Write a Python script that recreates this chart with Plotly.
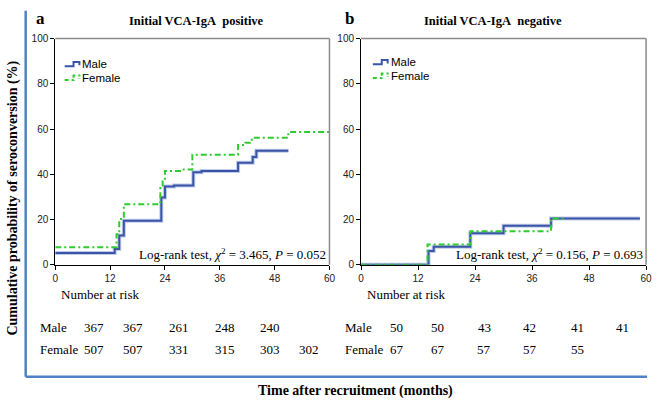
import plotly.graph_objects as go

# ---------------- data ----------------
# Panel a: Initial VCA-IgA positive
a_male_t = [0, 13, 14, 15, 23.2, 24, 26, 30.2, 32, 40, 43.2, 44, 51]
a_male_y = [5.2, 7.0, 13.0, 19.5, 29.7, 34.6, 35.1, 40.9, 41.5, 45.1, 47.6, 50.4, 50.4]
a_female_t = [0, 13.4, 14, 15, 23, 23.5, 24, 27.8, 30, 40, 41.6, 43, 51, 60]
a_female_y = [7.8, 13.5, 20.3, 26.8, 33.9, 37.5, 41.5, 42.1, 48.7, 53.0, 54.0, 56.2, 58.7, 58.7]

# Panel b: Initial VCA-IgA negative
b_male_t = [0, 14.2, 15.3, 23, 30, 40, 58.7]
b_male_y = [0, 6.1, 8.0, 14.0, 17.3, 20.5, 20.5]
b_female_t = [0, 14, 23, 40, 43]
b_female_y = [0, 9.0, 14.8, 20.5, 20.5]

x_ticks = [0, 12, 24, 36, 48, 60]
y_ticks = [0, 20, 40, 60, 80, 100]

a_risk_male = [367, 367, 261, 248, 240]
a_risk_female = [507, 507, 331, 315, 303, 302]
b_risk_male = [50, 50, 43, 42, 41, 41]
b_risk_female = [67, 67, 57, 57, 55]

a_logrank = "Log-rank test, <i>χ</i><sup>2</sup> = 3.465, <i>P</i> = 0.052"
b_logrank = "Log-rank test, <i>χ</i><sup>2</sup> = 0.156, <i>P</i> = 0.693"

# ---------------- layout helpers ----------------
W, H = 658, 409
def px(x):
    return x / W
def py(y):
    return 1 - y / H

BLUE = "#3A55A8"
HALO = "rgba(140,160,215,0.55)"
GREEN = "#2FCB2F"
GREEN_DASH = "6px,3px,2px,3px"
SERIF = "Liberation Serif, Times New Roman, serif"
SANS = "Liberation Sans, Arial, sans-serif"

fig = go.Figure()

def add_curves(t_m, y_m, t_f, y_f, xa, ya):
    fig.add_trace(go.Scatter(x=t_m, y=y_m, mode="lines", line=dict(shape="hv", color=HALO, width=4),
                             xaxis=xa, yaxis=ya, showlegend=False, hoverinfo="skip"))
    fig.add_trace(go.Scatter(x=t_m, y=y_m, mode="lines", line=dict(shape="hv", color=BLUE, width=2),
                             xaxis=xa, yaxis=ya, name="Male", showlegend=False))
    fig.add_trace(go.Scatter(x=t_f, y=y_f, mode="lines",
                             line=dict(shape="hv", color=GREEN, width=2, dash=GREEN_DASH),
                             xaxis=xa, yaxis=ya, name="Female", showlegend=False))

add_curves(a_male_t, a_male_y, a_female_t, a_female_y, "x", "y")
add_curves(b_male_t, b_male_y, b_female_t, b_female_y, "x2", "y2")

ydom = [py(267), py(34.5)]
axis_common = dict(
    showgrid=False, zeroline=False, showline=True, linecolor="black", linewidth=1,
    ticks="outside", ticklen=4, tickcolor="black", tickwidth=1,
    tickfont=dict(family=SANS, size=10, color="#222"), layer="below traces",
)
fig.update_layout(
    width=W, height=H, margin=dict(l=0, r=0, t=0, b=0),
    paper_bgcolor="white", plot_bgcolor="white",
    xaxis=dict(domain=[px(53), px(331)], range=[0, 60], tickvals=x_ticks, anchor="y", **axis_common),
    yaxis=dict(domain=ydom, range=[0, 100], tickvals=y_ticks, anchor="x", **axis_common),
    xaxis2=dict(domain=[px(363), px(652)], range=[0, 60], tickvals=x_ticks, anchor="y2", **axis_common),
    yaxis2=dict(domain=ydom, range=[0, 100], tickvals=y_ticks, anchor="x2", **axis_common),
)

shapes = []
# gray top / right borders
for xr, yr in (("x domain", "y domain"), ("x2 domain", "y2 domain")):
    shapes.append(dict(type="line", xref=xr, yref=yr, x0=0, x1=1, y0=1, y1=1, line=dict(color="#8a8a8a", width=1.5)))
    shapes.append(dict(type="line", xref=xr, yref=yr, x0=1, x1=1, y0=0, y1=1, line=dict(color="#8a8a8a", width=1.5)))

# blue outer frame (left and bottom)
FRAME = "#4F81C7"
shapes.append(dict(type="line", xref="paper", yref="paper", x0=px(23), x1=px(23), y0=py(6), y1=py(382),
                   line=dict(color=FRAME, width=2.5)))
shapes.append(dict(type="line", xref="paper", yref="paper", x0=px(23), x1=px(653), y0=py(382), y1=py(382),
                   line=dict(color=FRAME, width=2.5)))

annotations = []
def legend_block(x0, ym, yf):
    # step-shaped legend icons
    p = f"M {px(x0)},{py(ym+2)} L {px(x0+9)},{py(ym+2)} L {px(x0+9)},{py(ym-2.5)} L {px(x0+15)},{py(ym-2.5)} L {px(x0+15)},{py(ym+1)}"
    shapes.append(dict(type="path", xref="paper", yref="paper", path=p, line=dict(color=BLUE, width=2)))
    p2 = f"M {px(x0)},{py(yf+2)} L {px(x0+9)},{py(yf+2)} L {px(x0+9)},{py(yf-2.5)} L {px(x0+15)},{py(yf-2.5)} L {px(x0+15)},{py(yf+1)}"
    shapes.append(dict(type="path", xref="paper", yref="paper", path=p2, line=dict(color=GREEN, width=2, dash="4px,3px,2px,2px")))
    for txt, yy in (("Male", ym), ("Female", yf)):
        annotations.append(dict(text=txt, xref="paper", yref="paper", x=px(x0 + 16), y=py(yy),
                                xanchor="left", yanchor="middle", showarrow=False,
                                font=dict(family=SANS, size=11.5, color="black")))

legend_block(62.5, 61, 75)
legend_block(375, 59, 73)

def text(t, x, y, size, xanchor="center", bold=False, family=SERIF, angle=0):
    annotations.append(dict(text=f"<b>{t}</b>" if bold else t, xref="paper", yref="paper",
                            x=px(x), y=py(y), xanchor=xanchor, yanchor="middle", showarrow=False,
                            textangle=angle, font=dict(family=family, size=size, color="black")))

# panel labels and titles
text("a", 31, 14, 17, xanchor="left", bold=True)
text("Initial VCA-IgA\u00a0 positive", 196, 16, 12.5, bold=True)
text("b", 345, 14, 17, xanchor="left", bold=True)
text("Initial VCA-IgA\u00a0 negative", 497, 16, 12.5, bold=True)

# log-rank texts
text(a_logrank, 330, 256, 13, xanchor="right")
text(b_logrank, 651, 256, 13, xanchor="right")

# axis titles
text("Cumulative probability of seroconversion (%)", 10, 198, 14, bold=True, angle=-90)
text("Time after recruitment (months)", 357, 397, 14, bold=True)

# number at risk tables
a_cols = [92, 132, 178, 225, 271, 310]
b_cols = [399, 441, 488, 534, 582, 628]
ROW_M, ROW_F = 331, 354
text("Number at risk", 57, 297, 13, xanchor="left")
text("Number at risk", 367, 297, 13, xanchor="left")
text("Male", 35, ROW_M, 13, xanchor="left")
text("Female", 35, ROW_F, 13, xanchor="left")
text("Male", 345, ROW_M, 13, xanchor="left")
text("Female", 345, ROW_F, 13, xanchor="left")
for vals, cols, row in ((a_risk_male, a_cols, ROW_M), (a_risk_female, a_cols, ROW_F),
                        (b_risk_male, b_cols, ROW_M), (b_risk_female, b_cols, ROW_F)):
    for v, c in zip(vals, cols):
        text(str(v), c, row, 13)

fig.update_layout(shapes=shapes, annotations=annotations)
fig.write_html("out.html", config={"displayModeBar": False},
               post_script="document.body.style.margin='0';document.body.style.overflow='hidden';")
